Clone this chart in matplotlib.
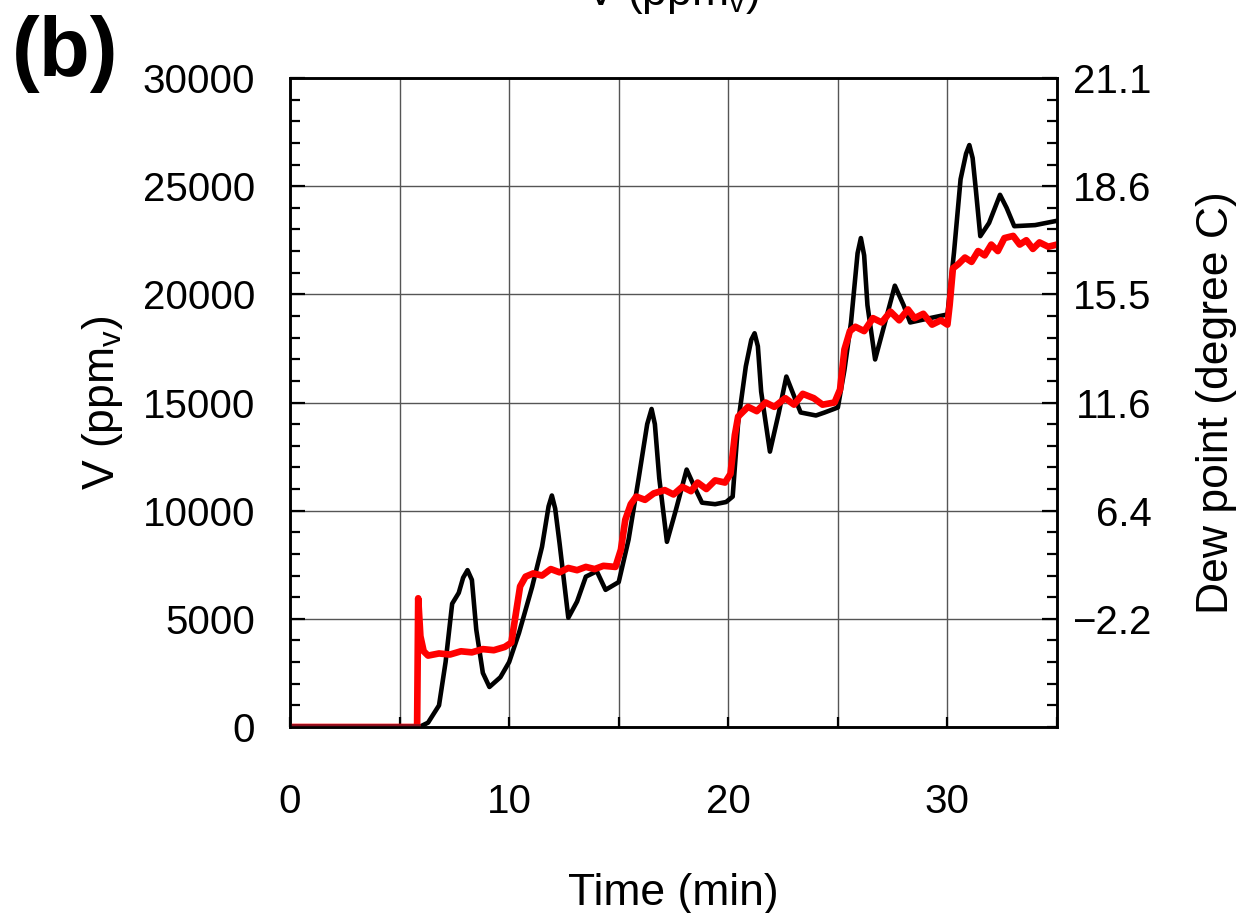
import matplotlib
matplotlib.use('Agg')
import matplotlib.pyplot as plt
from matplotlib.ticker import MultipleLocator

plt.rcParams['font.family'] = ['Liberation Sans', 'DejaVu Sans']
plt.rcParams['mathtext.fontset'] = 'custom'
plt.rcParams['mathtext.rm'] = 'Liberation Sans'
plt.rcParams['mathtext.it'] = 'Liberation Sans:italic'

# water vapour concentration (ppmv), black trace
black_t = [0, 5.9, 6.3, 6.8, 7.1, 7.4, 7.7, 7.9, 8.1, 8.3, 8.5, 8.8, 9.1, 9.6, 10.0, 10.45,
           11.05, 11.5, 11.8, 11.95, 12.1, 12.3, 12.7, 13.1, 13.5, 14.0, 14.4, 15.0, 15.45,
           15.9, 16.3, 16.5, 16.65, 16.85, 17.2, 17.6, 18.1, 18.5, 18.8, 19.4, 19.9, 20.2,
           20.45, 20.8, 21.05, 21.2, 21.35, 21.5, 21.9, 22.3, 22.65, 23.0, 23.3, 24.0, 24.4,
           25.0, 25.3, 25.6, 25.9, 26.05, 26.2, 26.35, 26.7, 27.1, 27.6, 28.0, 28.3, 29.2,
           30.0, 30.3, 30.6, 30.85, 31.0, 31.15, 31.3, 31.5, 31.9, 32.4, 32.7, 33.05, 34.0, 35.0]
black_v = [0, 0, 200, 1000, 3000, 5700, 6200, 6900, 7250, 6800, 4500, 2500, 1850, 2300, 3000, 4350,
           6480, 8330, 10200, 10700, 10100, 8500, 5050, 5800, 6950, 7200, 6340, 6700, 8660,
           11430, 14000, 14700, 14000, 11500, 8560, 10000, 11900, 11000, 10370, 10300, 10400, 10650,
           14070, 16670, 17900, 18200, 17600, 15500, 12730, 14500, 16200, 15300, 14540, 14400, 14540,
           14770, 16500, 18700, 21900, 22600, 21800, 19500, 16990, 18500, 20400, 19500, 18700, 18900,
           19070, 21940, 25320, 26500, 26900, 26300, 24800, 22690, 23300, 24600, 24000, 23150, 23200, 23400]

# reference hygrometer, red trace
red_t = [0, 5.8, 5.85, 5.95, 6.1, 6.3, 6.8, 7.3, 7.8, 8.3, 8.8, 9.3, 9.8, 10.1,
         10.3, 10.5, 10.75, 11.1, 11.5, 11.9, 12.3, 12.7, 13.1, 13.5, 13.9, 14.3,
         14.85, 15.1, 15.3, 15.55, 15.8, 16.2, 16.6, 17.1, 17.5, 17.9, 18.3, 18.6,
         19.0, 19.4, 19.85, 20.1, 20.3, 20.45, 20.9, 21.3, 21.7, 22.1, 22.6, 23.0,
         23.4, 23.9, 24.3, 24.85, 25.1, 25.3, 25.55, 25.8, 26.2, 26.6, 27.0, 27.4,
         27.8, 28.2, 28.5, 28.9, 29.3, 29.7, 30.0, 30.1, 30.25, 30.5, 30.8, 31.1,
         31.4, 31.7, 32.0, 32.3, 32.6, 33.0, 33.3, 33.6, 33.9, 34.2, 34.6, 35.0]
red_v = [0, 0, 5950, 4200, 3500, 3300, 3400, 3350, 3500, 3450, 3600, 3550, 3700, 3900,
         5200, 6500, 6950, 7100, 7000, 7300, 7150, 7350, 7250, 7400, 7300, 7450,
         7400, 8200, 9580, 10300, 10650, 10500, 10800, 10950, 10750, 11100, 10900, 11300,
         11000, 11400, 11300, 11700, 13500, 14350, 14800, 14600, 15000, 14800, 15200, 14900,
         15400, 15200, 14900, 15000, 15600, 17450, 18300, 18500, 18300, 18900, 18700, 19200,
         18800, 19300, 18900, 19100, 18600, 18800, 18600, 19500, 21200, 21400, 21700, 21500,
         22000, 21800, 22300, 22000, 22600, 22700, 22300, 22500, 22100, 22400, 22200, 22300]

ppm_ticks = [0, 5000, 10000, 15000, 20000, 25000, 30000]
dew_ticks = [5000, 10000, 15000, 20000, 25000, 30000]
dew_labels = ['\u22122.2', '6.4', '11.6', '15.5', '18.6', '21.1']

fig = plt.figure(figsize=(12.41, 9.13), dpi=100)
ax = fig.add_axes([290 / 1241, 1 - 727 / 913, (1057 - 290) / 1241, (727 - 78) / 913])

ax.plot(black_t, black_v, color='black', lw=3.3, zorder=3)
ax.plot(red_t, red_v, color='#ff0000', lw=4.8, zorder=4)
# overlap of both traces on the zero line shows up dark red
ax.plot(red_t[:2], red_v[:2], color='#8b1020', lw=4.8, zorder=5)

ax.set_xlim(0, 35)
ax.set_ylim(0, 30000)
ax.set_xticks([0, 10, 20, 30])
ax.xaxis.set_minor_locator(MultipleLocator(5))
ax.set_yticks(ppm_ticks)
ax.yaxis.set_minor_locator(MultipleLocator(1000))
ax.grid(True, which='major', axis='y', color='#555555', lw=1.0)
ax.grid(True, which='minor', axis='x', color='#555555', lw=1.0)
ax.grid(True, which='major', axis='x', color='#555555', lw=1.0)

ax.tick_params(axis='both', which='both', direction='in', width=1.6, labelsize=29)
ax.tick_params(axis='y', which='major', length=11, pad=25)
ax.tick_params(axis='y', which='minor', length=7)
ax.tick_params(axis='x', which='both', length=7, pad=40)
for s in ax.spines.values():
    s.set_linewidth(1.8)

ax.set_xlabel('Time (min)', fontsize=32, labelpad=38)
ax.set_ylabel('V (ppm$_\\mathrm{v}$)', fontsize=32, labelpad=13)

ax2 = ax.twinx()
ax2.set_ylim(0, 30000)
ax2.set_yticks(dew_ticks)
ax2.set_yticklabels(dew_labels)
ax2.yaxis.set_minor_locator(MultipleLocator(1000))
ax2.tick_params(axis='y', which='both', direction='in', width=1.6, labelsize=29)
ax2.tick_params(axis='y', which='major', length=11, pad=68)
ax2.tick_params(axis='y', which='minor', length=7)
for lab in ax2.get_yticklabels():
    lab.set_horizontalalignment('right')
ax2.set_ylabel('Dew point (degree C)', fontsize=32, labelpad=32)
for s in ax2.spines.values():
    s.set_linewidth(1.8)

fig.text(672 / 1241, 1 - 5 / 913, 'V (ppm$_\\mathrm{v}$)', fontsize=32,
         ha='center', va='baseline')
fig.text(12 / 1241, 1 - 54 / 913, '(b)', fontsize=60, fontweight='bold',
         ha='left', va='center')

fig.savefig('out.png', dpi=100)
